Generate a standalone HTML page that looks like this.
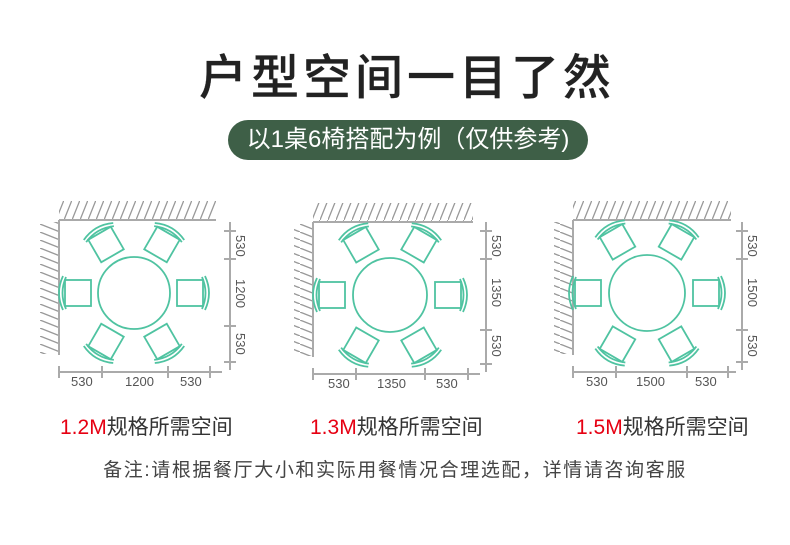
<!DOCTYPE html>
<html><head><meta charset="utf-8"><style>
body{margin:0;background:#fff;width:790px;height:545px;overflow:hidden;position:relative;font-family:"Liberation Sans","Noto Sans CJK SC",sans-serif}
.t{position:absolute;left:0;width:790px;text-align:center}
</style></head><body>
<div class="t" style="top:38px;left:12px;font-size:48px;color:#222;letter-spacing:4px;font-weight:500;-webkit-text-stroke:0.2px #222">户型空间一目了然</div>
<div style="position:absolute;left:228px;top:120px;width:360px;height:40px;border-radius:20px;background:#3e5f47;color:#fff;font-size:24px;line-height:40px;text-align:center">以1桌6椅搭配为例（仅供参考)</div>
<svg width="790" height="545" style="position:absolute;left:0;top:0">
<defs>
<g id="ch" fill="none" stroke="#4fc3a1" stroke-width="1.8">
<rect x="-13" y="-13" width="26" height="26"/>
<path d="M15,-17 Q23,0 15,17 M12,-16 Q19,0 12,16"/>
</g>
<pattern id="hh" width="8" height="20" patternUnits="userSpaceOnUse"><line x1="0" y1="20" x2="8" y2="0" stroke="#999" stroke-width="1.3"/></pattern>
<pattern id="hv" width="20" height="8" patternUnits="userSpaceOnUse"><line x1="0" y1="0" x2="20" y2="8" stroke="#999" stroke-width="1.3"/></pattern>
</defs>
<rect x="59" y="201" width="157" height="19" fill="url(#hh)"/>
<rect x="40" y="222" width="19" height="132" fill="url(#hv)"/>
<g stroke="#aaa" stroke-width="2" fill="none">
<path d="M59,220 H216 M59,220 V355"/>
<path d="M230,222 V370 M224,231 H236 M224,259 H236 M224,326 H236 M224,362 H236"/>
<path d="M59,372 H222 M59,366 V378 M102,366 V378 M168,366 V378 M210,366 V378"/>
</g>
<rect x="313" y="203" width="160" height="19" fill="url(#hh)"/>
<rect x="294" y="224" width="19" height="132" fill="url(#hv)"/>
<g stroke="#aaa" stroke-width="2" fill="none">
<path d="M313,222 H473 M313,222 V357"/>
<path d="M486,222 V372 M480,231 H492 M480,259 H492 M480,330 H492 M480,364 H492"/>
<path d="M313,374 H480 M313,368 V380 M356,368 V380 M425,368 V380 M468,368 V380"/>
</g>
<rect x="573" y="201" width="158" height="19" fill="url(#hh)"/>
<rect x="554" y="222" width="19" height="132" fill="url(#hv)"/>
<g stroke="#aaa" stroke-width="2" fill="none">
<path d="M573,220 H731 M573,220 V355"/>
<path d="M742,222 V370 M736,231 H748 M736,259 H748 M736,330 H748 M736,362 H748"/>
<path d="M573,372 H736 M573,366 V378 M616,366 V378 M687,366 V378 M728,366 V378"/>
</g>
<g fill="#555" font-size="13" font-family="Liberation Sans,sans-serif">
<text x="71" y="386">530</text><text x="125" y="386">1200</text><text x="180" y="386">530</text>
<text x="328" y="388">530</text><text x="377" y="388">1350</text><text x="436" y="388">530</text>
<text x="586" y="386">530</text><text x="636" y="386">1500</text><text x="695" y="386">530</text>
<text transform="translate(236,235) rotate(90)">530</text><text transform="translate(236,279) rotate(90)">1200</text><text transform="translate(236,333) rotate(90)">530</text>
<text transform="translate(492,235) rotate(90)">530</text><text transform="translate(492,278) rotate(90)">1350</text><text transform="translate(492,335) rotate(90)">530</text>
<text transform="translate(748,235) rotate(90)">530</text><text transform="translate(748,278) rotate(90)">1500</text><text transform="translate(748,335) rotate(90)">530</text>
</g>
<g fill="none" stroke="#4fc3a1" stroke-width="1.8">
<circle cx="134" cy="293" r="36"/><circle cx="390" cy="295" r="37"/><circle cx="647" cy="293" r="38"/>
</g>
<g transform="translate(134,293)">
<use href="#ch" transform="rotate(0) translate(56,0)"/><use href="#ch" transform="rotate(60) translate(56,0)"/><use href="#ch" transform="rotate(120) translate(56,0)"/><use href="#ch" transform="rotate(180) translate(56,0)"/><use href="#ch" transform="rotate(240) translate(56,0)"/><use href="#ch" transform="rotate(300) translate(56,0)"/>
</g>
<g transform="translate(390,295)">
<use href="#ch" transform="rotate(0) translate(58,0)"/><use href="#ch" transform="rotate(60) translate(58,0)"/><use href="#ch" transform="rotate(120) translate(58,0)"/><use href="#ch" transform="rotate(180) translate(58,0)"/><use href="#ch" transform="rotate(240) translate(58,0)"/><use href="#ch" transform="rotate(300) translate(58,0)"/>
</g>
<g transform="translate(647,293)">
<use href="#ch" transform="rotate(0) translate(59,0)"/><use href="#ch" transform="rotate(60) translate(59,0)"/><use href="#ch" transform="rotate(120) translate(59,0)"/><use href="#ch" transform="rotate(180) translate(59,0)"/><use href="#ch" transform="rotate(240) translate(59,0)"/><use href="#ch" transform="rotate(300) translate(59,0)"/>
</g>
</svg>
<div style="position:absolute;left:60px;top:411px;font-size:21px;color:#333"><span style="color:#e60012">1.2M</span>规格所需空间</div>
<div style="position:absolute;left:310px;top:411px;font-size:21px;color:#333"><span style="color:#e60012">1.3M</span>规格所需空间</div>
<div style="position:absolute;left:576px;top:411px;font-size:21px;color:#333"><span style="color:#e60012">1.5M</span>规格所需空间</div>
<div class="t" style="top:455px;font-size:19px;color:#444;letter-spacing:1.6px">备注:请根据餐厅大小和实际用餐情况合理选配，详情请咨询客服</div>
</body></html>
